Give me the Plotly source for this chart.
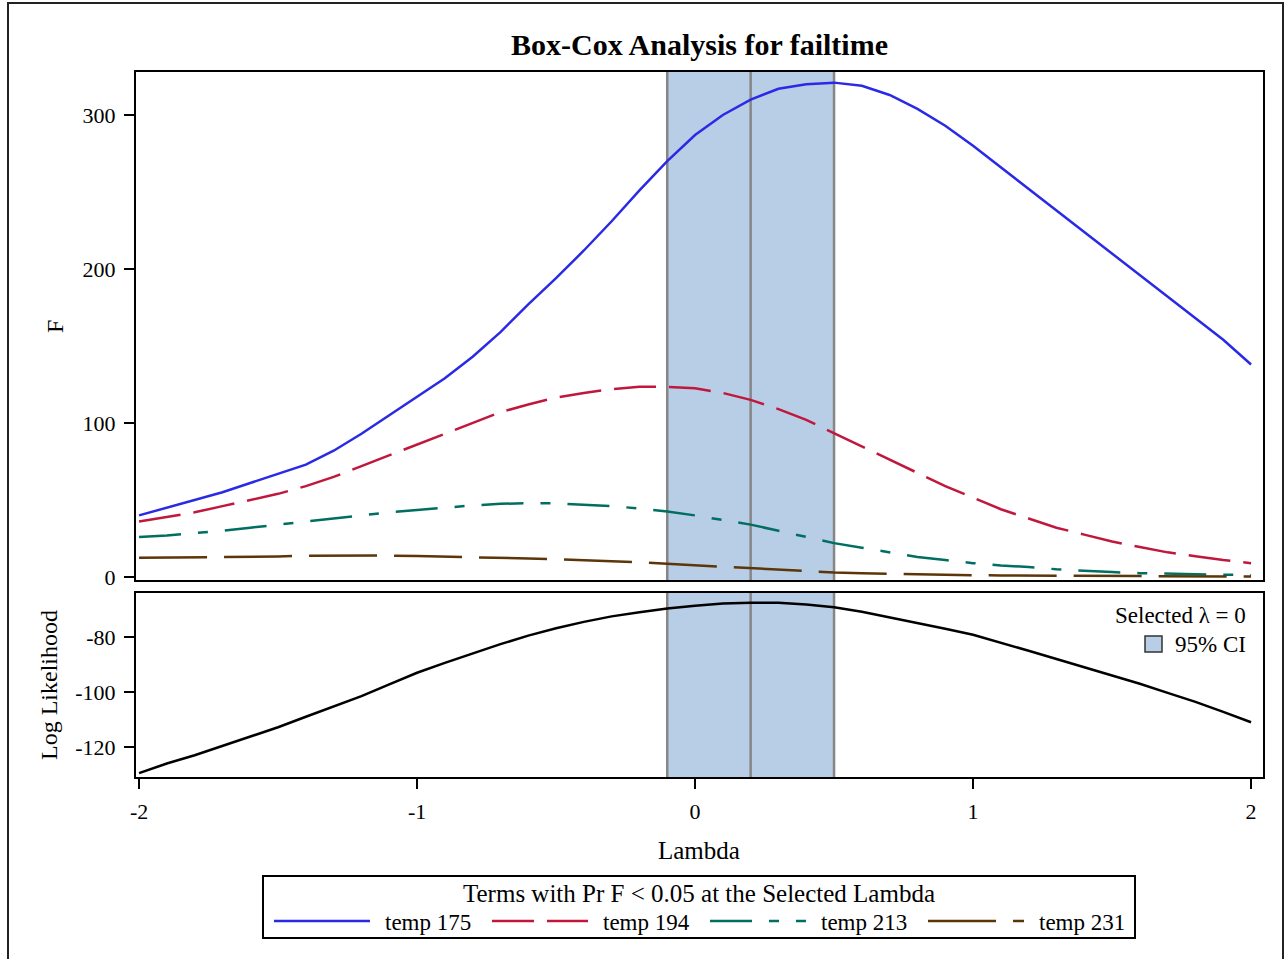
import plotly.graph_objects as go

# ---- data ----
lam = [-2.0, -1.9, -1.8, -1.7, -1.6, -1.5, -1.4, -1.3, -1.2, -1.1, -1.0,
       -0.9, -0.8, -0.7, -0.6, -0.5, -0.4, -0.3, -0.2, -0.1, 0.0,
       0.1, 0.2, 0.3, 0.4, 0.5, 0.6, 0.7, 0.8, 0.9, 1.0,
       1.1, 1.2, 1.3, 1.4, 1.5, 1.6, 1.7, 1.8, 1.9, 2.0]
f_temp175 = [40, 45, 50, 55, 61, 67, 73, 82, 93, 105, 117,
             129, 143, 159, 177, 194, 212, 231, 251, 270, 287,
             300, 310, 317, 320, 321, 319, 313, 304, 293, 280,
             266, 252, 238, 224, 210, 196, 182, 168, 154, 138]
f_temp194 = [36, 39, 42, 46, 50, 54, 59, 65, 72, 79, 86,
             93, 100.5, 107, 112, 116.5, 119.5, 122, 123.5, 123.5, 122.5,
             119.5, 115, 109, 102, 93.5, 85, 76, 67.5, 59, 51.5,
             44, 38, 32, 27.5, 23, 19.5, 16, 13.5, 11, 9]
f_temp213 = [26, 27, 28.5, 30, 32, 34, 36, 38, 40, 42, 43.5,
             45, 46.5, 47.5, 48, 47.8, 47, 46, 44.5, 42.5, 40,
             37, 34, 30, 26, 22, 19, 16, 13, 11, 9,
             7.5, 6.5, 5, 4, 3.2, 2.5, 2, 1.8, 1.5, 1.2]
f_temp231 = [12.5, 12.6, 12.8, 13, 13.1, 13.3, 13.8, 14, 14, 13.9, 13.6,
             13.3, 13, 12.5, 12, 11.5, 11, 10.3, 9.5, 8.5, 7.5,
             6.5, 5.5, 4.5, 3.6, 2.9, 2.4, 2.0, 1.7, 1.4, 1.2,
             1.0, 0.9, 0.8, 0.7, 0.6, 0.5, 0.45, 0.4, 0.35, 0.3]
log_lik = [-129.5, -126, -123, -119.6, -116.4, -112.8, -109, -105.3, -101.5, -97.2, -93,
           -89.4, -86, -82.6, -79.5, -76.8, -74.5, -72.5, -71, -69.6, -68.6,
           -67.8, -67.5, -67.5, -68.2, -69.2, -70.8, -72.8, -75, -77, -79.2,
           -82, -85, -88, -91, -94, -97, -100.3, -103.6, -107.2, -111]

ci_lower, ci_best, ci_upper = -0.1, 0.2, 0.5
selected_lambda = 0

x_ticks = [-2, -1, 0, 1, 2]
x_ticktext = ["-2", "-1", "0", "1", "2"]
f_ticks = [0, 100, 200, 300]
ll_ticks = [-120, -100, -80]
ll_ticktext = ["-120", "-100", "-80"]

series_names = ["temp 175", "temp 194", "temp 213", "temp 231"]
series_vals = [f_temp175, f_temp194, f_temp213, f_temp231]
series_colors = ["#2a2ae6", "#c0183c", "#006e60", "#5c3608"]
series_dash = ["solid", "42px,13px", "42px,17px,10px,17px", "68px,17px"]

FONT = "Liberation Serif"
BAND = "#b8cde6"

fig = go.Figure()
for name, vals, col, dash in zip(series_names, series_vals, series_colors, series_dash):
    fig.add_trace(go.Scatter(x=lam, y=vals, mode="lines", name=name,
                             line=dict(color=col, width=2.5, dash=dash),
                             xaxis="x", yaxis="y", showlegend=False))
fig.add_trace(go.Scatter(x=lam, y=log_lik, mode="lines", name="Log Likelihood",
                         line=dict(color="black", width=2.5),
                         xaxis="x2", yaxis="y2", showlegend=False))

shapes = []
for xr_, yr in [("x", "y domain"), ("x2", "y2 domain")]:
    shapes.append(dict(type="rect", xref=xr_, yref=yr, x0=ci_lower, x1=ci_upper,
                       y0=0, y1=1, fillcolor=BAND, line=dict(width=0), layer="below"))
    for xv in [ci_lower, ci_best, ci_upper]:
        shapes.append(dict(type="line", xref=xr_, yref=yr, x0=xv, x1=xv, y0=0, y1=1,
                           line=dict(color="#868686", width=2.5), layer="below"))

W, H = 1127.0, 705.0
def px_x(p):
    return (p - 136) / W
def px_y(p):
    return (777 - p) / H

# outer frame
shapes.append(dict(type="rect", xref="paper", yref="paper", x0=px_x(8), x1=px_x(1283),
                   y0=px_y(970), y1=px_y(3), line=dict(color="#222222", width=2),
                   fillcolor="rgba(0,0,0,0)", layer="above"))

# bottom legend box
shapes.append(dict(type="rect", xref="paper", yref="paper", x0=px_x(263), x1=px_x(1135),
                   y0=px_y(938), y1=px_y(876), line=dict(color="black", width=2),
                   fillcolor="white"))
annotations = []
leg_line_x = [274, 492, 710, 928]
for i, (name, col, dash) in enumerate(zip(series_names, series_colors, series_dash)):
    x0 = leg_line_x[i]
    shapes.append(dict(type="line", xref="paper", yref="paper", x0=px_x(x0), x1=px_x(x0 + 96),
                       y0=px_y(921), y1=px_y(921), line=dict(color=col, width=2.5, dash=dash)))
    annotations.append(dict(text=name, xref="paper", yref="paper", x=px_x(x0 + 109), y=px_y(922),
                            xanchor="left", yanchor="middle", showarrow=False,
                            font=dict(family=FONT, size=23, color="black")))
annotations.append(dict(text="Terms with Pr F < 0.05 at the Selected Lambda", xref="paper", yref="paper",
                        x=px_x(699), y=px_y(893), xanchor="center", yanchor="middle", showarrow=False,
                        font=dict(family=FONT, size=25, color="black")))

# inset legend in lower panel
annotations.append(dict(text="Selected \u03bb = %d" % selected_lambda, xref="paper", yref="paper",
                        x=px_x(1248), y=px_y(615), xanchor="right", yanchor="middle", showarrow=False,
                        font=dict(family=FONT, size=23, color="black")))
annotations.append(dict(text="95% CI", xref="paper", yref="paper",
                        x=px_x(1248), y=px_y(644), xanchor="right", yanchor="middle", showarrow=False,
                        font=dict(family=FONT, size=23, color="black")))
shapes.append(dict(type="rect", xref="paper", yref="paper", x0=px_x(1145), x1=px_x(1162),
                   y0=px_y(652), y1=px_y(636), fillcolor=BAND, line=dict(color="#333333", width=1.5)))

# axis titles
annotations.append(dict(text="F", xref="paper", yref="paper", x=px_x(55), y=px_y(326),
                        xanchor="center", yanchor="middle", textangle=-90, showarrow=False,
                        font=dict(family=FONT, size=24, color="black")))
annotations.append(dict(text="Log Likelihood", xref="paper", yref="paper", x=px_x(49), y=px_y(685),
                        xanchor="center", yanchor="middle", textangle=-90, showarrow=False,
                        font=dict(family=FONT, size=24, color="black")))
annotations.append(dict(text="Lambda", xref="paper", yref="paper", x=px_x(699), y=px_y(850),
                        xanchor="center", yanchor="middle", showarrow=False,
                        font=dict(family=FONT, size=25, color="black")))

axis_common = dict(showline=True, linecolor="black", linewidth=2, mirror=True,
                   showgrid=False, zeroline=False,
                   tickfont=dict(family=FONT, size=22, color="black"))
xr = [-2.011, 2.043]
fig.update_layout(
    width=1285, height=959,
    margin=dict(l=136, r=22, t=72, b=182),
    paper_bgcolor="white", plot_bgcolor="white",
    title=dict(text="<b>Box-Cox Analysis for failtime</b>", x=0.5, xref="paper",
               y=1 - 44 / 959, yref="container", xanchor="center", yanchor="middle",
               font=dict(family=FONT, size=30, color="black")),
    xaxis=dict(domain=[0, 1], anchor="y", range=xr, showticklabels=False, ticks="",
               matches="x2", **axis_common),
    yaxis=dict(domain=[px_y(580), 1], anchor="x", range=[-1.95, 327.9],
               tickvals=f_ticks, ticks="outside", ticklen=10, tickwidth=2,
               tickcolor="black", ticklabelstandoff=4, **axis_common),
    xaxis2=dict(domain=[0, 1], anchor="y2", range=xr, tickvals=x_ticks, ticktext=x_ticktext,
                ticks="outside", ticklen=10, tickwidth=2, tickcolor="black",
                ticklabelstandoff=4, **axis_common),
    yaxis2=dict(domain=[0, px_y(593)], anchor="x2", range=[-130.9, -64],
                tickvals=ll_ticks, ticktext=ll_ticktext, ticks="outside", ticklen=10, tickwidth=2,
                tickcolor="black", ticklabelstandoff=4, **axis_common),
    shapes=shapes, annotations=annotations, showlegend=False,
)

fig.write_html("out.html")
